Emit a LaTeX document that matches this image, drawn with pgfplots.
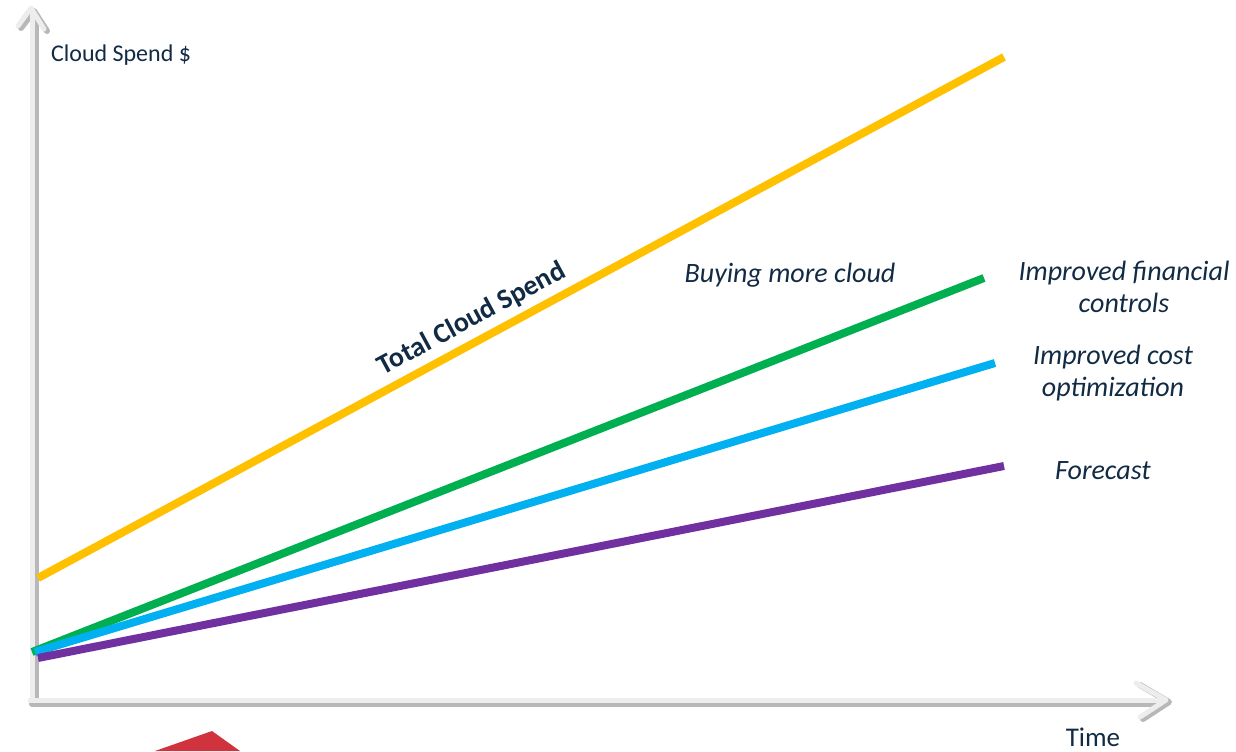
\documentclass[border=0pt]{standalone}
\usepackage{pgfplots}
\pgfplotsset{compat=1.18}
\usepackage{fontspec}
\setmainfont{Carlito}
\definecolor{cyel}{HTML}{FFC000}
\definecolor{cgrn}{HTML}{00B050}
\definecolor{cblu}{HTML}{00B0F0}
\definecolor{cpur}{HTML}{7030A0}
\definecolor{ctxt}{HTML}{112B44}
\definecolor{cred}{HTML}{D0323E}
\begin{document}
\begin{tikzpicture}
\begin{axis}[at={(0,0)},anchor=south west,
  scale only axis, width=618pt, height=375.5pt,
  xmin=0, xmax=1236, ymin=0, ymax=751,
  hide axis, clip=false]
% axes (shadow + light stroke)
\draw[black!28, line width=3pt, line cap=round] (axis cs:36,48) -- (axis cs:36,735);
\draw[black!28, line width=3pt, line cap=round] (axis cs:32,47) -- (axis cs:1160,47);
\draw[black!28, line width=3pt, line cap=round, line join=round] (axis cs:21,723) -- (axis cs:34,740) -- (axis cs:47,720);
\draw[black!28, line width=3pt, line cap=round, line join=round] (axis cs:1140,66) -- (axis cs:1169,49) -- (axis cs:1143,32);
\draw[black!7, line width=2.5pt, line cap=round] (axis cs:32,51) -- (axis cs:32,738);
\draw[black!7, line width=2.5pt, line cap=round] (axis cs:30,51) -- (axis cs:1160,51);
\draw[black!7, line width=2.5pt, line cap=round, line join=round] (axis cs:18,725) -- (axis cs:31,743) -- (axis cs:44,722);
\draw[black!7, line width=2.5pt, line cap=round, line join=round] (axis cs:1136,68) -- (axis cs:1166,51) -- (axis cs:1140,34);
% data lines
\addplot[cyel, line width=4pt] coordinates {(38,173) (1004,694)};
\addplot[cgrn, line width=4pt] coordinates {(32,99) (984,473)};
\addplot[cblu, line width=4pt] coordinates {(35,99) (995,388)};
\addplot[cpur, line width=4pt] coordinates {(38,93) (1004,285)};
% red shape
\fill[cred] (axis cs:155,0) -- (axis cs:212,20) -- (axis cs:240,0) -- cycle;
% labels
\node[anchor=west, text=ctxt, font=\fontsize{12}{14}\selectfont] at (axis cs:44,696) {Cloud Spend \$};
\node[text=ctxt, rotate=28.3, font=\fontsize{14}{16}\selectfont\bfseries] at (axis cs:472,432) {Total Cloud Spend};
\node[text=ctxt, font=\fontsize{14}{16}\selectfont\itshape] at (axis cs:790,476) {Buying more cloud};
\node[text=ctxt, align=center, font=\fontsize{14}{16}\selectfont\itshape] at (axis cs:1124,464) {Improved financial\\controls};
\node[text=ctxt, align=center, font=\fontsize{14}{16}\selectfont\itshape] at (axis cs:1113,378) {Improved cost\\optimization};
\node[text=ctxt, font=\fontsize{14}{16}\selectfont\itshape] at (axis cs:1103,280) {Forecast};
\node[text=ctxt, font=\fontsize{13.5}{16}\selectfont] at (axis cs:1093,14) {Time};
\end{axis}
\pgfresetboundingbox
\path[use as bounding box] (0,0) rectangle (618pt,375.5pt);
\end{tikzpicture}
\end{document}
